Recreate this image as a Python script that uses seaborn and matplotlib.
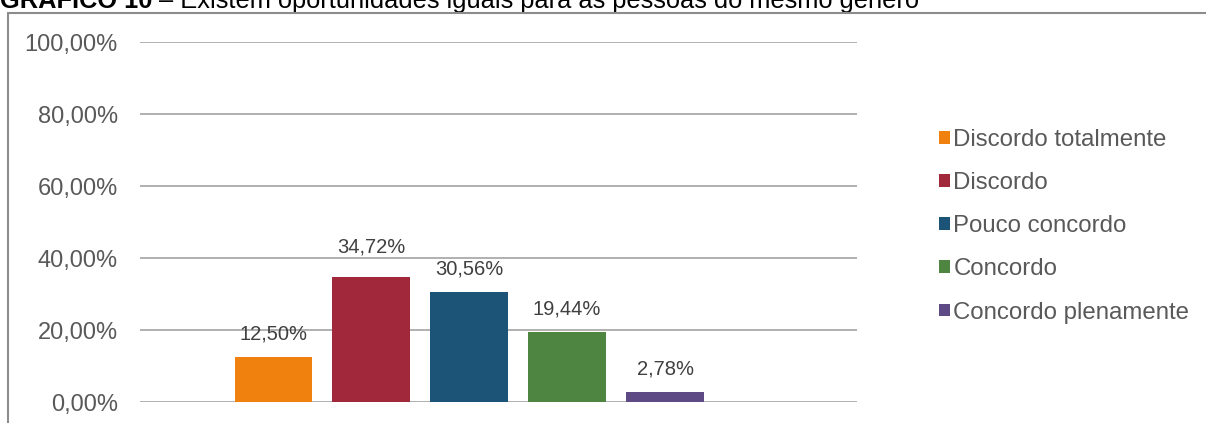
import matplotlib
matplotlib.use("Agg")
import matplotlib.pyplot as plt
from matplotlib.patches import Patch
from matplotlib.lines import Line2D
import seaborn as sns
import pandas as pd

# Survey answers and their shares (%)
categories = ["Discordo totalmente", "Discordo", "Pouco concordo", "Concordo", "Concordo plenamente"]
values = [12.50, 34.72, 30.56, 19.44, 2.78]
yticks = [0, 20, 40, 60, 80, 100]
ytick_labels = ["0,00%", "20,00%", "40,00%", "60,00%", "80,00%", "100,00%"]
colors = ["#F0810F", "#A0283A", "#1C5478", "#4E8541", "#5E4B86"]

title_bold = "GRÁFICO 10"
title_rest = " – Existem oportunidades iguais para as pessoas do mesmo gênero"

df = pd.DataFrame({"resposta": categories, "valor": values})

sns.set_theme(style="white")
plt.rcParams["font.family"] = ["Liberation Sans", "DejaVu Sans"]

W, H = 1206, 423
fig = plt.figure(figsize=(W / 100, H / 100), dpi=100)
ax = fig.add_axes([140 / W, 1 - 402 / H, (857 - 140) / W, (402 - 42) / H])

sns.barplot(data=df, x="resposta", y="valor", hue="resposta",
            palette=colors, width=0.79, legend=False, ax=ax,
            saturation=1, edgecolor="none")

ax.set_xlim(-1.36, 5.96)
ax.set_ylim(0, 100)
ax.set_yticks(yticks)
ax.set_yticklabels(ytick_labels, fontsize=17, color="#595959")
ax.set_xticks([])
ax.set_xlabel("")
ax.set_ylabel("")
ax.tick_params(axis="y", length=0, pad=16)
ax.yaxis.grid(True, color="#a3a3a3", linewidth=1.2)
ax.set_axisbelow(True)
for s in ax.spines.values():
    s.set_visible(False)

# Value labels above each bar; the tallest one sits a little higher
for cont, v in zip(ax.containers, values):
    pad = 15 if v == max(values) else 9.5
    ax.bar_label(cont, labels=[f"{v:.2f}%".replace(".", ",")],
                 padding=pad, fontsize=14.5, color="#404040")

# Legend with small square keys
handles = [Patch(facecolor=c, edgecolor="none") for c in colors]
fig.legend(handles, categories, loc="upper left",
           bbox_to_anchor=(939 / W, 1 - 129 / H), frameon=False,
           fontsize=17.3, labelcolor="#595959", handlelength=0.45,
           handleheight=0.45, handletextpad=0.15, labelspacing=0.88,
           borderaxespad=0, borderpad=0)

# Outer chart frame (top and left edges)
fig.add_artist(Line2D([8 / W, 1], [1 - 13 / H, 1 - 13 / H], color="#8c8c8c", lw=1.5))
fig.add_artist(Line2D([8 / W, 8 / W], [0, 1 - 13 / H], color="#8c8c8c", lw=1.5))

# Caption above the chart
t1 = fig.text(0, 1 - 8 / H, title_bold, fontsize=18.3, fontweight="bold",
              color="black", va="baseline", ha="left")
ax.annotate(title_rest, xy=(1, 0), xycoords=t1, va="bottom", ha="left",
            fontsize=18.3, color="black", annotation_clip=False)

fig.savefig("out.png", dpi=100)
